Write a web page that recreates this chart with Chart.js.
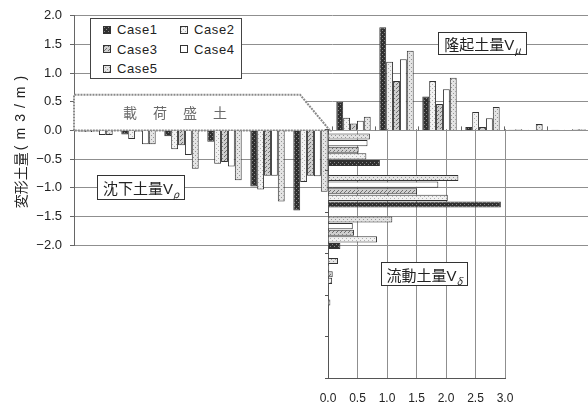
<!DOCTYPE html>
<html lang="ja">
<head>
<meta charset="utf-8">
<title>変形土量</title>
<script src="https://cdn.jsdelivr.net/npm/chart.js@4.4.1/dist/chart.umd.min.js"></script>
<style>
  html, body { margin: 0; padding: 0; background: #fff; }
  #wrap { position: relative; width: 588px; height: 410px; overflow: hidden; }
  #wrap canvas { position: absolute; left: 0; top: 0; }
  .note {
    position: absolute; box-sizing: border-box; border: 1px solid #333; background: #fff;
    font: 15px "Noto Sans CJK JP", sans-serif; color: #222; white-space: nowrap;
    display: flex; align-items: center; justify-content: center;
  }
  .note .v { font-family: "Liberation Sans", Arial, sans-serif; }
  .note sub { font-style: italic; font-size: 10px; vertical-align: -4px; line-height: 0; }
  #legend {
    position: absolute; left: 90px; top: 18px; width: 152px; height: 61px;
    box-sizing: border-box; border: 1px solid #444; background: #fff;
    display: grid; grid-template-columns: 77px 70px; grid-auto-rows: 19.5px;
    padding: 1px 0 0 12px;
    font: 13px "Liberation Sans", Arial, sans-serif; letter-spacing: 0.6px; color: #222;
  }
  #legend .item { display: flex; align-items: center; }
  #legend .sw { width: 6px; height: 6px; border: 1px solid #333; margin-right: 6px; }
</style>
</head>
<body>
<div id="wrap">
  <canvas id="heaveChart" width="590" height="410"></canvas>
  <canvas id="flowChart" width="588" height="410"></canvas>
  <div id="legend"></div>
  <div class="note" style="left:438px; top:32px; width:89px; height:23px;"><span>隆起土量<span class="v">V</span><sub>μ</sub></span></div>
  <div class="note" style="left:97px; top:175px; width:88px; height:25px;"><span>沈下土量<span class="v">V</span><sub>ρ</sub></span></div>
  <div class="note" style="left:381px; top:262px; width:87px; height:24px;"><span>流動土量<span class="v">V</span><sub>δ</sub></span></div>
</div>
<script>
// --- data ---
const CASES = ['Case1', 'Case2', 'Case3', 'Case4', 'Case5'];

// sections along the ground surface (settlement < 0, heave > 0)
const SECTIONS = ['1', '2', '3', '4', '5', '6', '7', '8', '9', '10', '11', '12'];
const SURFACE_CASE1 = [-0.02, -0.07, -0.10, -0.20, -0.98, -1.40, 0.50, 1.80, 0.59, 0.06, 0.01, 0.01];
const SURFACE_CASE2 = [-0.03, -0.15, -0.33, -0.58, -1.03, -0.90, 0.22, 1.20, 0.86, 0.32, 0.02, 0.01];
const SURFACE_CASE3 = [-0.02, -0.02, -0.26, -0.55, -0.79, -0.79, 0.12, 0.86, 0.46, 0.06, 0.01, 0.00];
const SURFACE_CASE4 = [-0.08, -0.24, -0.43, -0.63, -0.79, -0.80, 0.17, 1.24, 0.72, 0.21, 0.00, 0.02];
const SURFACE_CASE5 = [-0.08, -0.24, -0.67, -0.87, -1.24, -1.07, 0.24, 1.39, 0.92, 0.41, 0.11, 0.02];

// layers below the toe (lateral flow)
const LAYERS = ['1', '2', '3', '4', '5', '6'];
const FLOW_CASE1 = [0.88, 2.93, 0.21, 0.01, 0.00, 0.00];
const FLOW_CASE2 = [0.65, 2.03, 0.83, 0.07, 0.00, 0.00];
const FLOW_CASE3 = [0.52, 1.51, 0.44, 0.08, 0.00, 0.00];
const FLOW_CASE4 = [0.67, 1.87, 0.42, 0.02, 0.00, 0.00];
const FLOW_CASE5 = [0.71, 2.21, 1.09, 0.17, 0.04, 0.00];

const SURFACE = [SURFACE_CASE1, SURFACE_CASE2, SURFACE_CASE3, SURFACE_CASE4, SURFACE_CASE5];
const FLOW = [FLOW_CASE1, FLOW_CASE2, FLOW_CASE3, FLOW_CASE4, FLOW_CASE5];

// embankment outline, in axis units (value / category index)
const FILL_HEIGHT = 0.62;
const FILL_CREST = 4.76;
const FILL_TOE = 5.45;
const FILL_LABEL_AT = 1.85;

const LABEL_FONT = '"Liberation Sans", Arial, sans-serif';
const JP_FONT = '"Noto Sans CJK JP", sans-serif';
Chart.defaults.font.family = LABEL_FONT;
Chart.defaults.color = '#222';

// hatch-like fills, one per case
function makeTile(bg, dot, cells) {
    const c = document.createElement('canvas');
    c.width = 4; c.height = 4;
    const g = c.getContext('2d');
    g.fillStyle = bg;
    g.fillRect(0, 0, 4, 4);
    g.fillStyle = dot;
    cells.forEach(([px, py]) => g.fillRect(px, py, 1, 1));
    return c;
}

const tiles = [
    makeTile('#303030', '#8a8a8a', [[0, 0], [2, 2]]),
    makeTile('#f2f2f2', '#b0b0b0', [[0, 0], [2, 2]]),
    makeTile('#cfcfcf', '#707070', [[0, 0], [2, 2], [1, 3]]),
    makeTile('#ffffff', '#ffffff', []),
    makeTile('#e4e4e4', '#959595', [[1, 1], [3, 3]])
];
const patternCtx = document.createElement('canvas').getContext('2d');
const fills = tiles.map(t => patternCtx.createPattern(t, 'repeat'));

// legend
const legendEl = document.getElementById('legend');
CASES.forEach((name, i) => {
    const item = document.createElement('div');
    item.className = 'item';
    const sw = document.createElement('span');
    sw.className = 'sw';
    sw.style.backgroundImage = `url(${tiles[i].toDataURL()})`;
    item.appendChild(sw);
    item.appendChild(document.createTextNode(name));
    legendEl.appendChild(item);
});

const fmt = v => Number(v).toFixed(1).replace('-', '\u2212');

// category boundary ticks on the zero line, then the embankment
const embankment = {
    id: 'embankment',
    beforeDatasetsDraw(chart) {
        const { ctx, chartArea, scales: { x, y } } = chart;
        const y0 = y.getPixelForValue(0);
        ctx.save();
        ctx.strokeStyle = '#666';
        ctx.lineWidth = 1;
        for (let i = 0; i <= SECTIONS.length; i++) {
            const px = Math.round(x.getPixelForValue(i - 0.5)) + 0.5;
            ctx.beginPath();
            ctx.moveTo(px, y0);
            ctx.lineTo(px, y0 - 4);
            ctx.stroke();
        }

        const yTop = y.getPixelForValue(FILL_HEIGHT);
        ctx.beginPath();
        ctx.moveTo(chartArea.left, y0);
        ctx.lineTo(chartArea.left, yTop);
        ctx.lineTo(x.getPixelForValue(FILL_CREST), yTop);
        ctx.lineTo(x.getPixelForValue(FILL_TOE), y0);
        ctx.closePath();
        ctx.fillStyle = '#fff';
        ctx.fill();
        ctx.strokeStyle = '#8a8a8a';
        ctx.lineWidth = 2;
        ctx.setLineDash([2, 1]);
        ctx.stroke();

        ctx.setLineDash([]);
        ctx.font = '14px ' + JP_FONT;
        ctx.letterSpacing = '16px';
        ctx.fillStyle = '#6a6a6a';
        ctx.textBaseline = 'middle';
        const text = '載荷盛土';
        const w = ctx.measureText(text).width - 16;
        ctx.fillText(text, x.getPixelForValue(FILL_LABEL_AT) - w / 2, y.getPixelForValue(FILL_HEIGHT / 2));
        ctx.restore();
    }
};

const yTitle = {
    id: 'yTitle',
    afterDraw(chart) {
        const { ctx } = chart;
        const head = '変形土量';
        const unit = '(m3/m)';
        ctx.save();
        ctx.translate(21, 143);
        ctx.rotate(-Math.PI / 2);
        ctx.textBaseline = 'middle';
        ctx.fillStyle = '#222';
        ctx.font = '14px ' + JP_FONT;
        const w1 = ctx.measureText(head).width;
        ctx.font = '14px ' + LABEL_FONT;
        ctx.letterSpacing = '6px';
        const w2 = ctx.measureText(unit).width - 6;
        const start = -(w1 + w2) / 2;
        ctx.fillText(unit, start + w1 + 2, 0);
        ctx.letterSpacing = '0px';
        ctx.font = '14px ' + JP_FONT;
        ctx.fillText(head, start, 0);
        ctx.restore();
    }
};

new Chart(document.getElementById('heaveChart'), {
    type: 'bar',
    data: {
        labels: SECTIONS,
        datasets: CASES.map((name, i) => ({
            label: name,
            data: SURFACE[i],
            backgroundColor: fills[i],
            borderColor: '#333',
            borderWidth: 1
        }))
    },
    options: {
        responsive: false,
        animation: false,
        layout: { padding: { top: 13, right: 0, bottom: 165, left: 0 } },
        datasets: { bar: { categoryPercentage: 0.8, barPercentage: 1.0 } },
        plugins: { legend: { display: false }, tooltip: { enabled: false } },
        scales: {
            x: { display: false },
            y: {
                min: -2,
                max: 2,
                ticks: { stepSize: 0.5, callback: fmt, padding: 8, font: { size: 13 } },
                grid: { color: '#8f8f8f', tickLength: 4, tickColor: '#666' },
                border: { color: '#666' },
                afterFit: s => { s.width = 74; }
            }
        }
    },
    plugins: [embankment, yTitle]
});

// horizontal bars: Case1 sits lowest in every layer
const order = [4, 3, 2, 1, 0];
new Chart(document.getElementById('flowChart'), {
    type: 'bar',
    data: {
        labels: LAYERS,
        datasets: order.map(i => ({
            label: CASES[i],
            data: FLOW[i],
            backgroundColor: fills[i],
            borderColor: '#333',
            borderWidth: 1
        }))
    },
    options: {
        indexAxis: 'y',
        responsive: false,
        animation: false,
        layout: { padding: { top: 129, right: 83, bottom: 2, left: 324 } },
        datasets: { bar: { categoryPercentage: 0.8, barPercentage: 0.92 } },
        plugins: { legend: { display: false }, tooltip: { enabled: false } },
        scales: {
            x: {
                min: 0,
                max: 3,
                ticks: { stepSize: 0.5, callback: fmt, padding: 13, font: { size: 12 } },
                grid: { color: '#8f8f8f', drawTicks: false },
                border: { color: '#555' },
                afterFit: s => { s.height = 30; }
            },
            y: {
                ticks: { display: false },
                grid: { offset: true, drawOnChartArea: false, tickLength: 3, color: '#555' },
                border: { color: '#555' },
                afterFit: s => { s.width = 4; }
            }
        }
    }
});
</script>
</body>
</html>
